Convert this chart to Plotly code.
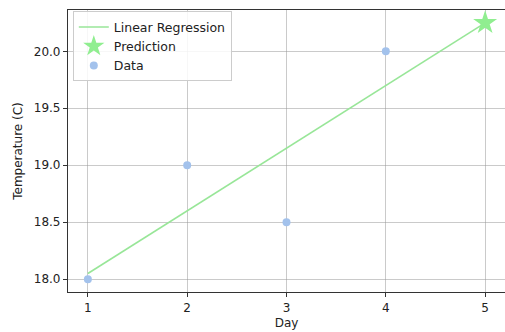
import plotly.graph_objects as go

days = [1, 2, 3, 4]
temps = [18.0, 19.0, 18.5, 20.0]
line_days = [1, 2, 3, 4, 5]
line_temps = [18.05, 18.6, 19.15, 19.7, 20.25]
pred_day = [5]
pred_temp = [20.25]
x_ticks = [1, 2, 3, 4, 5]
y_ticks = [18.0, 18.5, 19.0, 19.5, 20.0]

fig = go.Figure()
fig.add_trace(go.Scatter(x=line_days, y=line_temps, mode="lines", name="Linear Regression",
                         line=dict(color="#98e698", width=1.6)))
fig.add_trace(go.Scatter(x=pred_day, y=pred_temp, mode="markers", name="Prediction",
                         marker=dict(symbol="star", size=18, color="#90ee90", line=dict(width=0))))
fig.add_trace(go.Scatter(x=days, y=temps, mode="markers", name="Data",
                         marker=dict(symbol="circle", size=8, color="#a3c2ec", line=dict(width=0))))

axis_common = dict(
    showline=True, linecolor="#333333", linewidth=1.2, mirror=True,
    ticks="outside", ticklen=4, tickcolor="#333333", tickwidth=1,
    showgrid=True, gridcolor="rgba(150,150,150,0.5)", gridwidth=1,
    zeroline=False, tickfont=dict(size=12, color="#222222"), automargin=False,
)

fig.update_xaxes(range=[0.8, 5.2], tickvals=x_ticks, ticktext=[str(v) for v in x_ticks],
                 title=dict(text="Day", font=dict(size=12, color="#222222"), standoff=5),
                 **axis_common)
fig.update_yaxes(range=[17.8875, 20.3625], tickvals=y_ticks, ticktext=[f"{v:.1f}" for v in y_ticks],
                 title=dict(text="Temperature (C)", font=dict(size=12, color="#222222"), standoff=8),
                 **axis_common)

fig.update_layout(
    width=505, height=332,
    margin=dict(l=68, r=0, t=10, b=40),
    paper_bgcolor="white", plot_bgcolor="white",
    font=dict(family="DejaVu Sans", size=12, color="#222222"),
    legend=dict(x=0.011, y=0.995, xanchor="left", yanchor="top",
                bgcolor="rgba(255,255,255,0.85)", bordercolor="#cccccc", borderwidth=1,
                font=dict(size=12.5), tracegroupgap=0, itemwidth=30),
    showlegend=True,
)

fig.write_html("out.html", config={"displayModeBar": False},
               post_script="document.body.style.margin='0';document.body.style.overflow='hidden';")
